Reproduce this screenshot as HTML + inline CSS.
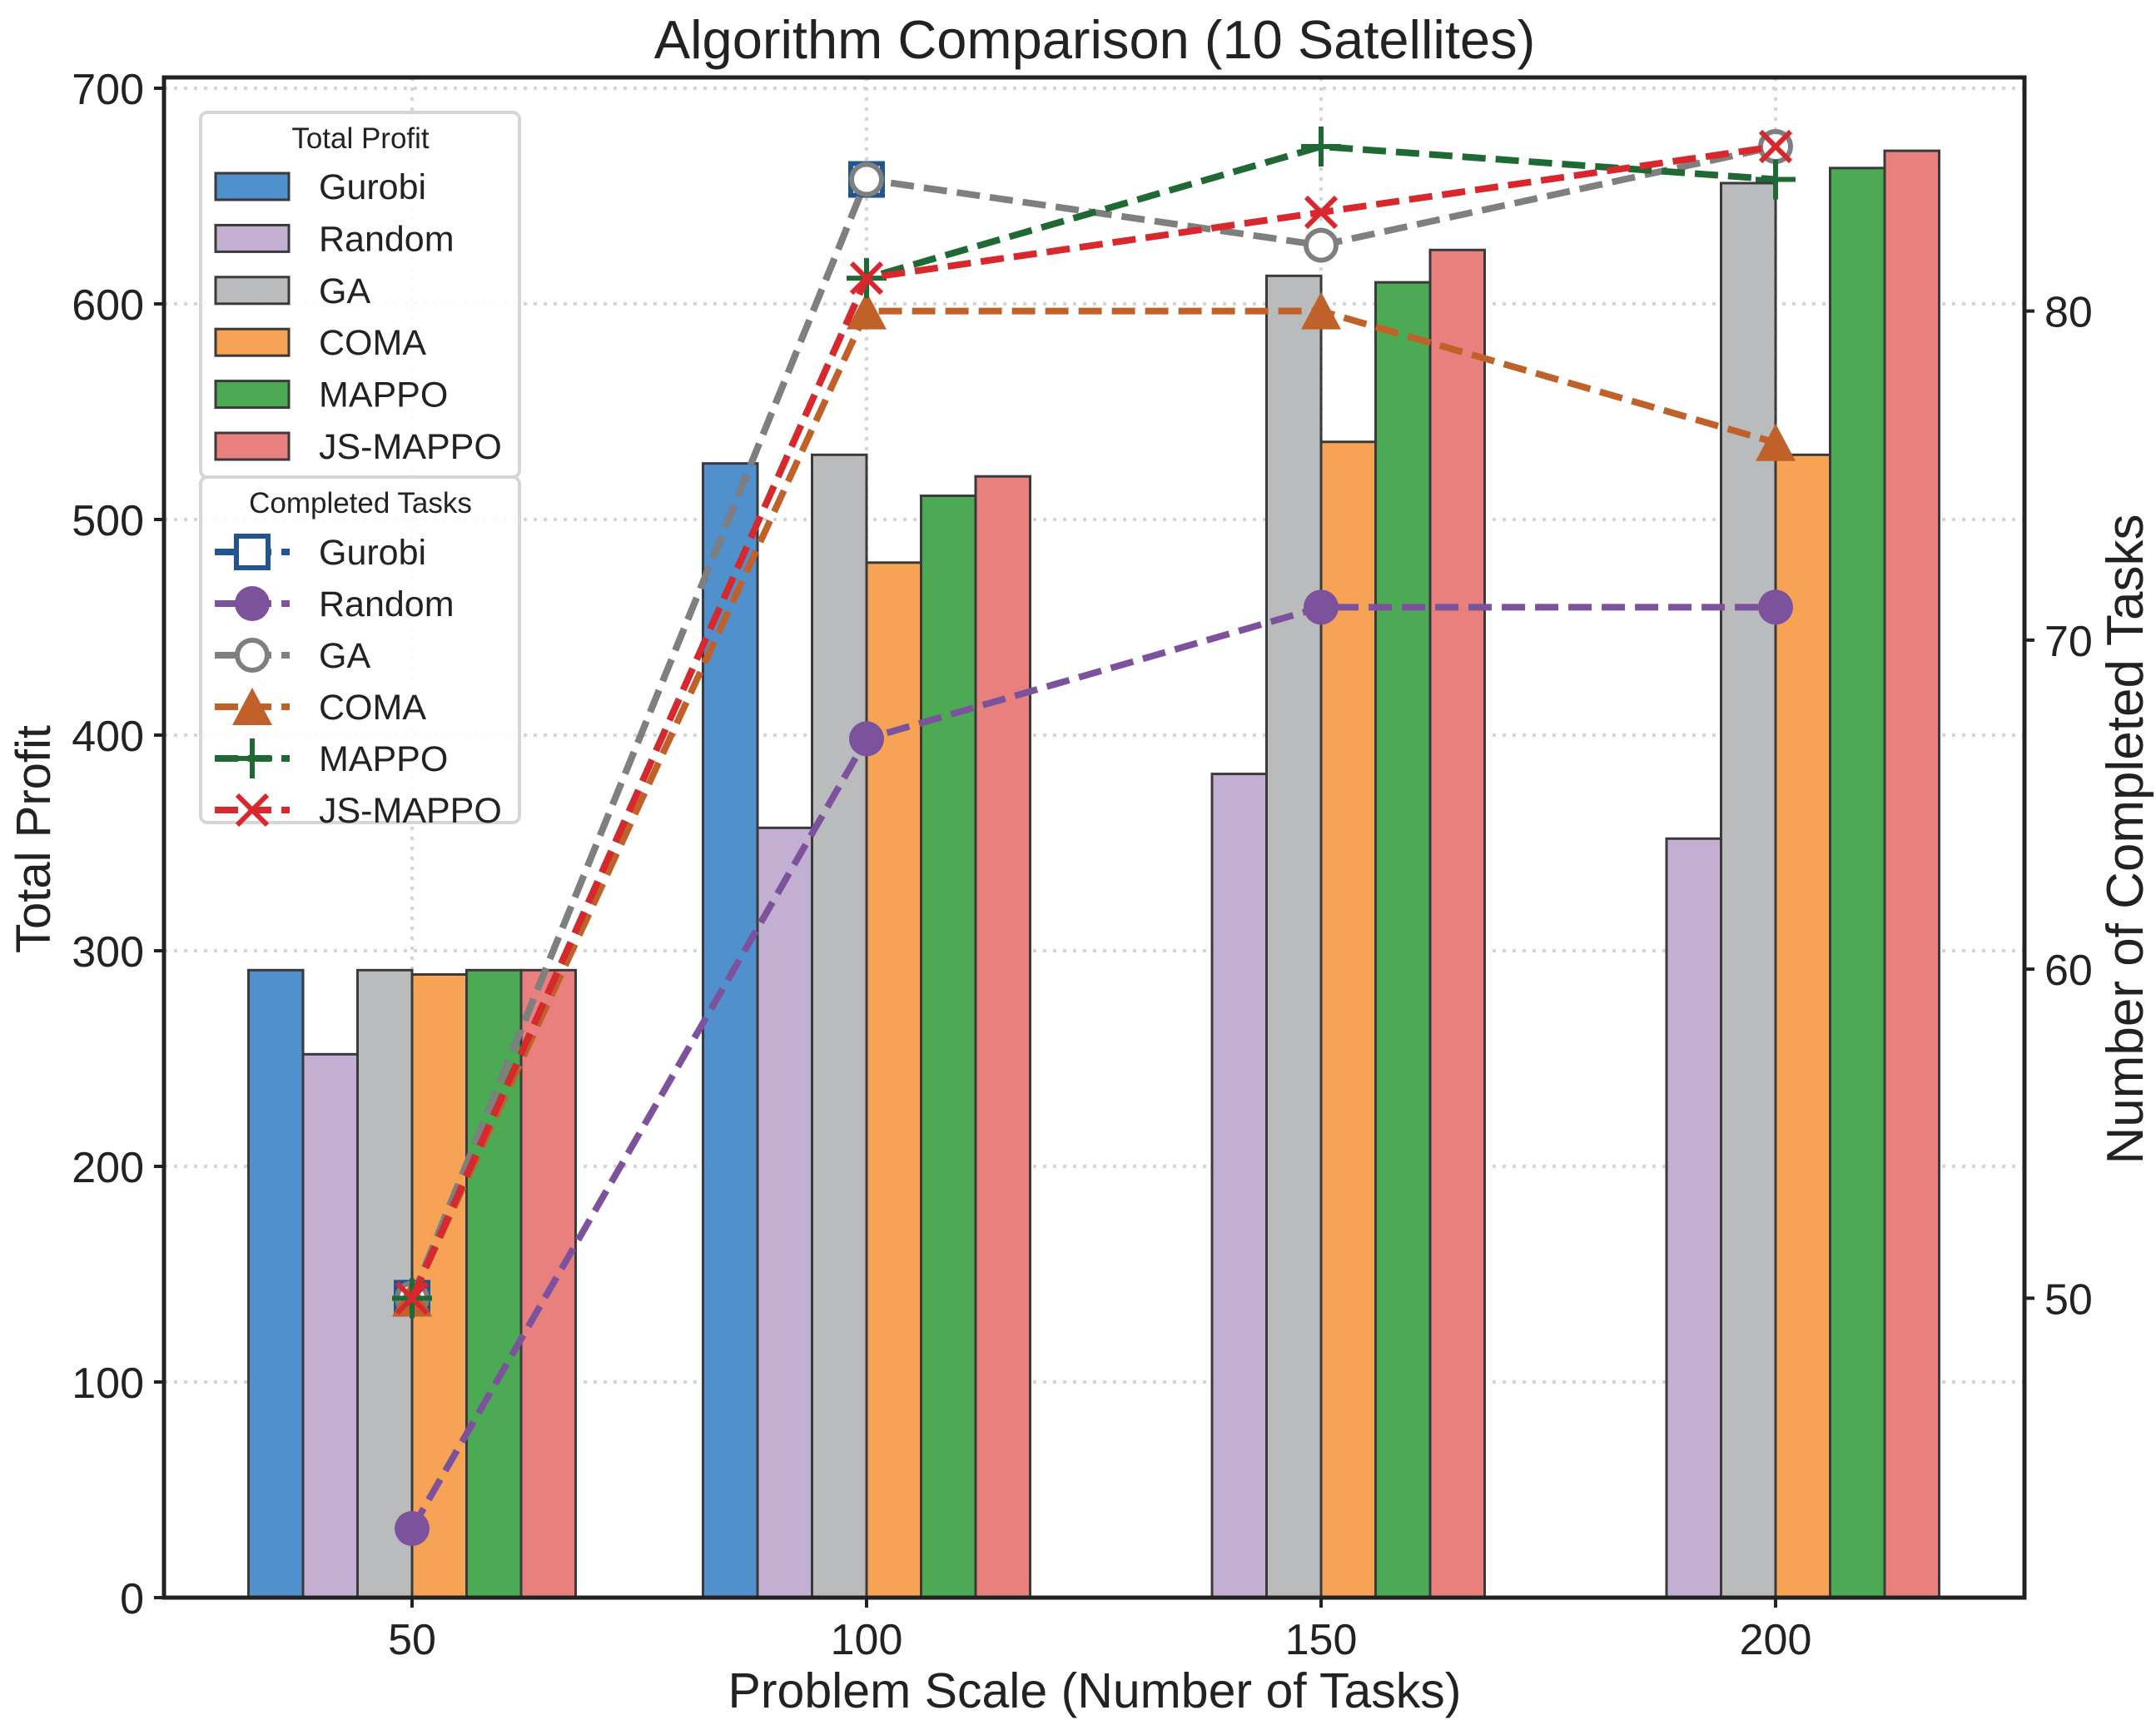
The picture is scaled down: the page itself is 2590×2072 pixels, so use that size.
<!DOCTYPE html>
<html><head><meta charset="utf-8"><style>
html,body{margin:0;padding:0;background:#fff;}
svg{display:block;font-family:"Liberation Sans",Arial,sans-serif;}
</style></head><body>
<svg id="chart" width="2590" height="2072" viewBox="0 0 2590 2072" xmlns="http://www.w3.org/2000/svg">
<rect width="2590" height="2072" fill="#fff"/>
<g id="grid"></g><g id="bars"></g><g id="lines"></g><g id="axes"></g><g id="legend"></g>
</svg>
<script>
const categories = [50, 100, 150, 200];
const algorithms = ["Gurobi","Random","GA","COMA","MAPPO","JS-MAPPO"];
const profitGurobi = [291, 526, 0, 0];
const profitRandom = [252, 357, 382, 352];
const profitGA = [291, 530, 613, 656];
const profitCOMA = [289, 480, 536, 530];
const profitMAPPO = [291, 511, 610, 663];
const profitJS = [291, 520, 625, 671];
const tasksGurobi = [50, 84];
const tasksRandom = [43, 67, 71, 71];
const tasksGA = [50, 84, 82, 85];
const tasksCOMA = [50, 80, 80, 76];
const tasksMAPPO = [50, 81, 85, 84];
const tasksJS = [50, 81, 83, 85];
const leftTicks = [0,100,200,300,400,500,600,700];
const rightTicks = [50,60,70,80];

const NS="http://www.w3.org/2000/svg";
const L=197,R=2432,T=93,B=1919;
const xScale=v=>495+(v-50)*(1092/100);
const yL=v=>B-v*2.59;
const rMin=40.9,rMax=87.1;
const yR=v=>B-(v-rMin)/(rMax-rMin)*(B-T);
const barW=65.5;
function mk(parent,tag,attrs){const e=document.createElementNS(NS,tag);for(const k in attrs)e.setAttribute(k,attrs[k]);document.getElementById(parent).appendChild(e);return e;}

// grid
leftTicks.forEach(t=>{const e=mk('grid','line',{x1:L,x2:R,y1:yL(t),y2:yL(t),stroke:'#d4d4d4','stroke-width':4,'stroke-dasharray':'4 8'});

});
categories.forEach(c=>{const e=mk('grid','line',{x1:xScale(c),x2:xScale(c),y1:T,y2:B,stroke:'#d4d4d4','stroke-width':4,'stroke-dasharray':'4 8'});

});

// bars
const profits=[profitGurobi,profitRandom,profitGA,profitCOMA,profitMAPPO,profitJS];
const barColors=['#5090cd','#c3afd2','#babbbc','#f7a355','#4caa54','#e8807e'];
profits.forEach((arr,i)=>{arr.forEach((v,j)=>{if(v<=0)return;
const x=xScale(categories[j])+(i-3)*barW;
const r=mk('bars','rect',{x:x,y:yL(v),width:barW,height:B-yL(v),fill:barColors[i],stroke:'#3a3a3a','stroke-width':3});

});});

// lines
const tasks=[tasksGurobi,tasksRandom,tasksGA,tasksCOMA,tasksMAPPO,tasksJS];
const lineColors=['#1f5592','#7b529b','#7f7f80','#c1612a','#1e6934','#d9272e'];
const markers=['square','circle','ocircle','triangle','plus','x'];
function marker(g,type,x,y,c){
 let e;
 if(type==='square')e=mk(g,'rect',{x:x-19,y:y-19,width:38,height:38,fill:'#fff',stroke:c,'stroke-width':6});
 else if(type==='circle')e=mk(g,'circle',{cx:x,cy:y,r:21,fill:c});
 else if(type==='ocircle')e=mk(g,'circle',{cx:x,cy:y,r:18,fill:'#fff',stroke:c,'stroke-width':6});
 else if(type==='triangle')e=mk(g,'polygon',{points:`${x},${y-23} ${x+24},${y+22} ${x-24},${y+22}`,fill:c});
 else if(type==='plus')e=mk(g,'path',{d:`M${x-24},${y}H${x+24}M${x},${y-24}V${y+24}`,stroke:c,'stroke-width':6,fill:'none'});
 else e=mk(g,'path',{d:`M${x-18},${y-18}L${x+18},${y+18}M${x-18},${y+18}L${x+18},${y-18}`,stroke:c,'stroke-width':6,fill:'none'});
 return e;
}
tasks.forEach((arr,i)=>{
 const pts=arr.map((v,j)=>xScale(categories[j])+','+yR(v)).join(' ');
 const pl=mk('lines','polyline',{points:pts,fill:'none',stroke:lineColors[i],'stroke-width':8,'stroke-dasharray':'28 12'});
 
 
 arr.forEach((v,j)=>{const m=marker('lines',markers[i],xScale(categories[j]),yR(v),lineColors[i]);
 
 });
});

// axes
const fr=mk('axes','rect',{x:L,y:T,width:R-L,height:B-T,fill:'none',stroke:'#222','stroke-width':5});


leftTicks.forEach(t=>{mk('axes','line',{x1:L-12,x2:L,y1:yL(t),y2:yL(t),stroke:'#222','stroke-width':4});
const tx=mk('axes','text',{x:L-24,y:yL(t)+19,'text-anchor':'end','font-size':52,fill:'#222'});tx.textContent=t;

});
rightTicks.forEach(t=>{mk('axes','line',{x1:R,x2:R+12,y1:yR(t),y2:yR(t),stroke:'#222','stroke-width':4});
const tx=mk('axes','text',{x:R+24,y:yR(t)+19,'text-anchor':'start','font-size':52,fill:'#222'});tx.textContent=t;

});
categories.forEach(c=>{mk('axes','line',{x1:xScale(c),x2:xScale(c),y1:B,y2:B+12,stroke:'#222','stroke-width':4});
const tx=mk('axes','text',{x:xScale(c),y:B+68,'text-anchor':'middle','font-size':52,fill:'#222'});tx.textContent=c;

});
let t1=mk('axes','text',{x:1315,y:70,'text-anchor':'middle','font-size':65,fill:'#222'});t1.textContent='Algorithm Comparison (10 Satellites)';


let t2=mk('axes','text',{x:1315,y:2051,'text-anchor':'middle','font-size':59,fill:'#222'});t2.textContent='Problem Scale (Number of Tasks)';


let t3=mk('axes','text',{x:0,y:0,'text-anchor':'middle','font-size':58,fill:'#222',transform:'translate(60,1008) rotate(-90)'});t3.textContent='Total Profit';


let t4=mk('axes','text',{x:0,y:0,'text-anchor':'middle','font-size':62,fill:'#222',transform:'translate(2574,1008) rotate(-90)'});t4.textContent='Number of Completed Tasks';



// legends
const lb1=mk('legend','rect',{x:241,y:135,width:383,height:438,rx:8,fill:'#fff','fill-opacity':0.85,stroke:'#d6d6d6','stroke-width':4});


let lt1=mk('legend','text',{x:433,y:178,'text-anchor':'middle','font-size':35,fill:'#222'});lt1.textContent='Total Profit';


algorithms.forEach((a,i)=>{const cy=224+i*62.4;
const p=mk('legend','rect',{x:259,y:cy-16,width:88,height:32,fill:barColors[i],stroke:'#3a3a3a','stroke-width':3});


const tx=mk('legend','text',{x:383,y:cy+15,'font-size':43,fill:'#222'});tx.textContent=a;

});
const lb2=mk('legend','rect',{x:241,y:573,width:383,height:415,rx:8,fill:'#fff','fill-opacity':0.85,stroke:'#d6d6d6','stroke-width':4});


let lt2=mk('legend','text',{x:433,y:616,'text-anchor':'middle','font-size':35,fill:'#222'});lt2.textContent='Completed Tasks';


algorithms.forEach((a,i)=>{const cy=663+i*62;
const ln=mk('legend','line',{x1:258,x2:348,y1:cy,y2:cy,stroke:lineColors[i],'stroke-width':8,'stroke-dasharray':'28 12'});


const m=marker('legend',markers[i],303,cy,lineColors[i]);


const tx=mk('legend','text',{x:383,y:cy+15,'font-size':43,fill:'#222'});tx.textContent=a;

});
</script>
</body></html>
